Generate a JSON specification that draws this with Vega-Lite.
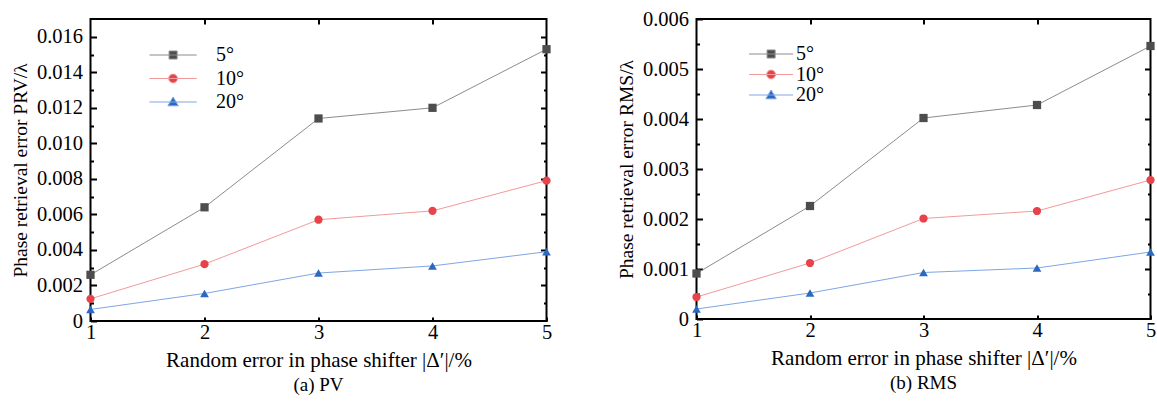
{
  "$schema": "https://vega.github.io/schema/vega-lite/v6.json",
  "background": "white",
  "padding": {"left": 8.5, "top": 8, "right": 0, "bottom": 0},
  "config": {
    "font": "Liberation Serif",
    "view": {"stroke": "black", "strokeWidth": 2},
    "axis": {
      "domain": false,
      "grid": false,
      "tickColor": "black",
      "tickWidth": 2,
      "labelColor": "black",
      "labelFont": "Liberation Serif",
      "labelFontSize": 20.5,
      "labelFlush": false,
      "labelOverlap": false,
      "titleColor": "black",
      "titleFont": "Liberation Serif",
      "titleFontSize": 19.5,
      "titleFontWeight": "normal"
    },
    "legend": {
      "orient": "none",
      "labelFont": "Liberation Serif",
      "labelFontSize": 20,
      "labelColor": "black",
      "labelOffset": 33,
      "symbolSize": 64,
      "symbolStrokeWidth": 1,
      "symbolOpacity": 1
    },
    "title": {"font": "Liberation Serif", "fontSize": 19, "fontWeight": "normal", "color": "black", "orient": "bottom", "anchor": "middle", "offset": 5}
  },
  "datasets": {
    "pv": [
      {"x": 1, "s": "5°", "v": 0.0026},
      {"x": 2, "s": "5°", "v": 0.0064},
      {"x": 3, "s": "5°", "v": 0.0114},
      {"x": 4, "s": "5°", "v": 0.0120},
      {"x": 5, "s": "5°", "v": 0.0153},
      {"x": 1, "s": "10°", "v": 0.00125},
      {"x": 2, "s": "10°", "v": 0.0032},
      {"x": 3, "s": "10°", "v": 0.0057},
      {"x": 4, "s": "10°", "v": 0.0062},
      {"x": 5, "s": "10°", "v": 0.0079},
      {"x": 1, "s": "20°", "v": 0.00065},
      {"x": 2, "s": "20°", "v": 0.00155},
      {"x": 3, "s": "20°", "v": 0.0027},
      {"x": 4, "s": "20°", "v": 0.0031},
      {"x": 5, "s": "20°", "v": 0.0039}
    ],
    "rms": [
      {"x": 1, "s": "5°", "v": 0.00091},
      {"x": 2, "s": "5°", "v": 0.00226},
      {"x": 3, "s": "5°", "v": 0.00402},
      {"x": 4, "s": "5°", "v": 0.00428},
      {"x": 5, "s": "5°", "v": 0.00546},
      {"x": 1, "s": "10°", "v": 0.00044},
      {"x": 2, "s": "10°", "v": 0.00112},
      {"x": 3, "s": "10°", "v": 0.00201},
      {"x": 4, "s": "10°", "v": 0.00216},
      {"x": 5, "s": "10°", "v": 0.00278},
      {"x": 1, "s": "20°", "v": 0.0002},
      {"x": 2, "s": "20°", "v": 0.00052},
      {"x": 3, "s": "20°", "v": 0.00093},
      {"x": 4, "s": "20°", "v": 0.00102},
      {"x": 5, "s": "20°", "v": 0.00134}
    ]
  },
  "hconcat": [
    {
      "width": 456,
      "height": 302,
      "data": {"name": "pv"},
      "title": {"text": "(a) PV"},
      "encoding": {
        "x": {"field": "x", "type": "quantitative", "scale": {"domain": [1, 5], "nice": false, "zero": false}},
        "y": {"field": "v", "type": "quantitative", "scale": {"domain": [0, 0.017], "nice": false}}
      },
      "layer": [
        {
          "mark": {"type": "point", "opacity": 0},
          "encoding": {
            "x": {"field": "x", "type": "quantitative", "axis": null},
            "y": {"field": "v", "type": "quantitative", "axis": null},
            "shape": {"field": "s", "type": "nominal", "scale": {"domain": ["5°", "10°", "20°"], "range": ["M-5.9,0H5.9M-1,-1H1V1H-1Z", "M-5.9,0H5.9M-1.1,0A1.1,1.1,0,1,0,1.1,0A1.1,1.1,0,1,0,-1.1,0Z", "M-5.9,0H5.9M0,-1.25L1.3,0.95H-1.3Z"]}, "legend": {"title": null, "legendX": 72.6, "legendY": 26, "rowPadding": 3.5, "symbolOpacity": 1}},
            "fill": {"field": "s", "type": "nominal", "scale": {"domain": ["5°", "10°", "20°"], "range": ["#4d4d4d", "#e8434b", "#2b68bf"]}, "legend": {"title": null, "legendX": 72.6, "legendY": 26, "rowPadding": 3.5, "symbolOpacity": 1}},
            "stroke": {"field": "s", "type": "nominal", "scale": {"domain": ["5°", "10°", "20°"], "range": ["#8c8c8c", "#f29a9a", "#7fa5e4"]}, "legend": {"title": null, "legendX": 72.6, "legendY": 26, "rowPadding": 3.5, "symbolOpacity": 1}}
          }
        },
        {
          "mark": {"type": "line", "strokeWidth": 1},
          "encoding": {
            "x": {"field": "x", "type": "quantitative", "axis": {"orient": "bottom", "values": [1, 2, 3, 4, 5], "format": "d", "tickSize": -4, "labelPadding": 5, "title": "Random error in phase shifter |Δ′|/%", "titleFontSize": 21, "titlePadding": 7}},
            "y": {"field": "v", "type": "quantitative", "axis": {"orient": "left", "values": [0, 0.002, 0.004, 0.006, 0.008, 0.01, 0.012, 0.014, 0.016], "labelExpr": "datum.value == 0 ? '0' : format(datum.value, '.3f')", "tickSize": -6, "labelPadding": 14, "title": "Phase retrieval error PRV/λ", "titlePadding": 6}},
            "color": {"field": "s", "type": "nominal", "scale": {"domain": ["5°", "10°", "20°"], "range": ["#8c8c8c", "#f29a9a", "#7fa5e4"]}, "legend": null}
          }
        },
        {
          "transform": [{"filter": "datum.s == '5°'"}],
          "mark": {"type": "point", "shape": "square", "filled": true, "size": 68, "color": "#4d4d4d", "opacity": 1},
          "encoding": {
            "x": {"field": "x", "type": "quantitative", "axis": {"orient": "top", "values": [2, 3, 4], "tickSize": -5, "labels": false, "title": null}},
            "y": {"field": "v", "type": "quantitative", "axis": {"orient": "left", "values": [0.001, 0.003, 0.005, 0.007, 0.009, 0.011, 0.013, 0.015], "tickSize": -3, "labels": false, "title": null}}
          }
        },
        {
          "transform": [{"filter": "datum.s == '10°'"}],
          "mark": {"type": "point", "shape": "circle", "filled": true, "size": 68, "color": "#e8434b", "opacity": 1},
          "encoding": {
            "x": {"field": "x", "type": "quantitative", "axis": null},
            "y": {"field": "v", "type": "quantitative", "axis": {"orient": "right", "values": [0.002, 0.004, 0.006, 0.008, 0.01, 0.012, 0.014, 0.016], "tickSize": -6, "labels": false, "title": null}}
          }
        },
        {
          "transform": [{"filter": "datum.s == '20°'"}],
          "mark": {"type": "point", "shape": "triangle-up", "filled": true, "size": 76, "color": "#2b68bf", "opacity": 1},
          "encoding": {
            "x": {"field": "x", "type": "quantitative", "axis": null},
            "y": {"field": "v", "type": "quantitative", "axis": {"orient": "right", "values": [0.001, 0.003, 0.005, 0.007, 0.009, 0.011, 0.013, 0.015], "tickSize": -3, "labels": false, "title": null}}
          }
        }
      ],
      "resolve": {"axis": {"x": "independent", "y": "independent"}}
    },
    {
      "width": 454,
      "height": 300,
      "data": {"name": "rms"},
      "title": {"text": "(b) RMS"},
      "encoding": {
        "x": {"field": "x", "type": "quantitative", "scale": {"domain": [1, 5], "nice": false, "zero": false}},
        "y": {"field": "v", "type": "quantitative", "scale": {"domain": [0, 0.006], "nice": false}}
      },
      "layer": [
        {
          "mark": {"type": "point", "opacity": 0},
          "encoding": {
            "x": {"field": "x", "type": "quantitative", "axis": null},
            "y": {"field": "v", "type": "quantitative", "axis": null},
            "shape": {"field": "s", "type": "nominal", "scale": {"domain": ["5°", "10°", "20°"], "range": ["M-5.5,0H5.5M-1,-1H1V1H-1Z", "M-5.5,0H5.5M-1.1,0A1.1,1.1,0,1,0,1.1,0A1.1,1.1,0,1,0,-1.1,0Z", "M-5.5,0H5.5M0,-1.25L1.3,0.95H-1.3Z"]}, "legend": {"title": null, "legendX": 64.6, "legendY": 25, "rowPadding": 0.5, "labelOffset": 15, "symbolOpacity": 1}},
            "fill": {"field": "s", "type": "nominal", "scale": {"domain": ["5°", "10°", "20°"], "range": ["#4d4d4d", "#e8434b", "#2b68bf"]}, "legend": {"title": null, "legendX": 64.6, "legendY": 25, "rowPadding": 0.5, "labelOffset": 15, "symbolOpacity": 1}},
            "stroke": {"field": "s", "type": "nominal", "scale": {"domain": ["5°", "10°", "20°"], "range": ["#8c8c8c", "#f29a9a", "#7fa5e4"]}, "legend": {"title": null, "legendX": 64.6, "legendY": 25, "rowPadding": 0.5, "labelOffset": 15, "symbolOpacity": 1}}
          }
        },
        {
          "mark": {"type": "line", "strokeWidth": 1},
          "encoding": {
            "x": {"field": "x", "type": "quantitative", "axis": {"orient": "bottom", "values": [1, 2, 3, 4, 5], "format": "d", "tickSize": -4, "labelPadding": 5, "title": "Random error in phase shifter |Δ′|/%", "titleFontSize": 21, "titlePadding": 7}},
            "y": {"field": "v", "type": "quantitative", "axis": {"orient": "left", "values": [0, 0.001, 0.002, 0.003, 0.004, 0.005, 0.006], "labelExpr": "datum.value == 0 ? '0' : format(datum.value, '.3f')", "tickSize": -6, "labelPadding": 14, "title": "Phase retrieval error RMS/λ", "titlePadding": 6}},
            "color": {"field": "s", "type": "nominal", "scale": {"domain": ["5°", "10°", "20°"], "range": ["#8c8c8c", "#f29a9a", "#7fa5e4"]}, "legend": null}
          }
        },
        {
          "transform": [{"filter": "datum.s == '5°'"}],
          "mark": {"type": "point", "shape": "square", "filled": true, "size": 68, "color": "#4d4d4d", "opacity": 1},
          "encoding": {
            "x": {"field": "x", "type": "quantitative", "axis": {"orient": "top", "values": [2, 3, 4], "tickSize": -5, "labels": false, "title": null}},
            "y": {"field": "v", "type": "quantitative", "axis": {"orient": "left", "values": [0.0005, 0.0015, 0.0025, 0.0035, 0.0045, 0.0055], "tickSize": -3, "labels": false, "title": null}}
          }
        },
        {
          "transform": [{"filter": "datum.s == '10°'"}],
          "mark": {"type": "point", "shape": "circle", "filled": true, "size": 68, "color": "#e8434b", "opacity": 1},
          "encoding": {
            "x": {"field": "x", "type": "quantitative", "axis": null},
            "y": {"field": "v", "type": "quantitative", "axis": {"orient": "right", "values": [0.001, 0.002, 0.003, 0.004, 0.005], "tickSize": -6, "labels": false, "title": null}}
          }
        },
        {
          "transform": [{"filter": "datum.s == '20°'"}],
          "mark": {"type": "point", "shape": "triangle-up", "filled": true, "size": 76, "color": "#2b68bf", "opacity": 1},
          "encoding": {
            "x": {"field": "x", "type": "quantitative", "axis": null},
            "y": {"field": "v", "type": "quantitative", "axis": {"orient": "right", "values": [0.0005, 0.0015, 0.0025, 0.0035, 0.0045, 0.0055], "tickSize": -3, "labels": false, "title": null}}
          }
        }
      ],
      "resolve": {"axis": {"x": "independent", "y": "independent"}}
    }
  ],
  "spacing": 150,
  "bounds": "flush",
  "resolve": {
    "scale": {"color": "independent", "shape": "independent", "fill": "independent", "stroke": "independent"},
    "legend": {"color": "independent", "shape": "independent", "fill": "independent", "stroke": "independent"}
  }
}
